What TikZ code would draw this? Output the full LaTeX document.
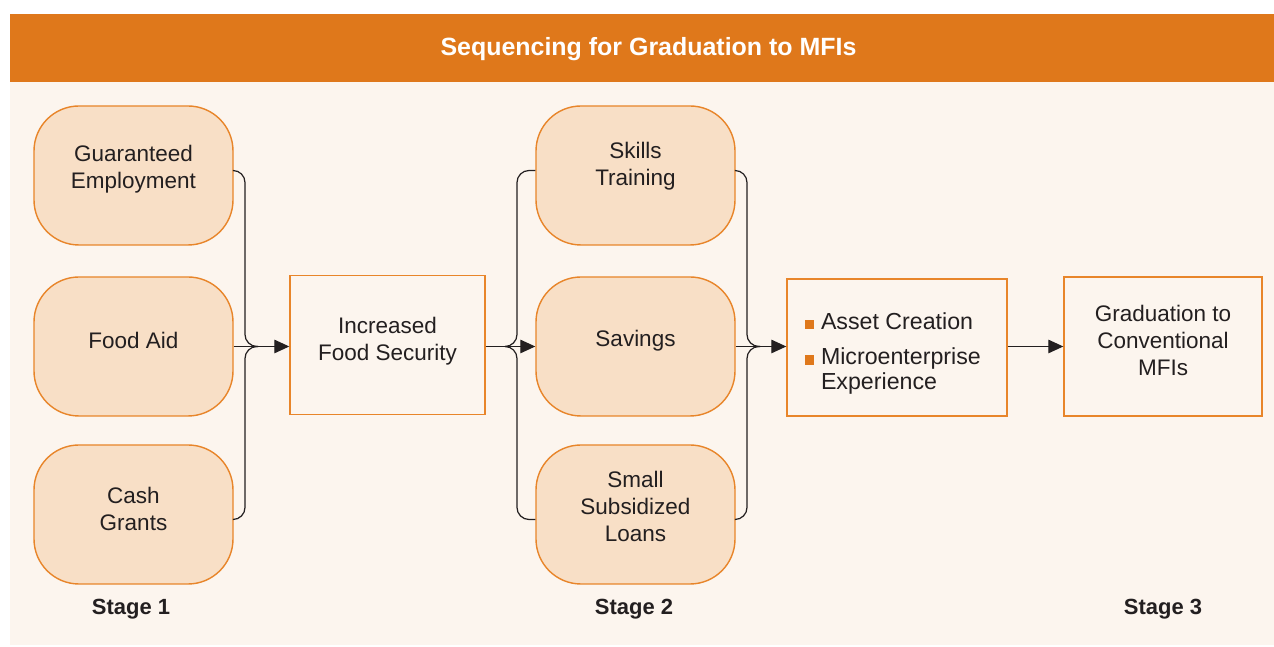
\documentclass[tikz,border=0pt]{standalone}
\usepackage{fontspec}
\setmainfont{Liberation Sans}
\usepackage{xcolor}
\usepackage{tikz}
\usetikzlibrary{arrows.meta}

\definecolor{mfiorange}{HTML}{DF781B}
\definecolor{mficream}{HTML}{FCF5EE}
\definecolor{mfipeach}{HTML}{F8DFC6}
\definecolor{mfiedge}{HTML}{E8852A}
\definecolor{mfitext}{HTML}{231F20}

\newcommand{\sqbullet}{\textcolor{mfiorange}{\rule{0.19cm}{0.19cm}}\hspace{0.14cm}}

\tikzset{
	stagebox/.style={draw=mfiedge, fill=mfipeach, line width=0.8pt, rounded corners=0.9cm, minimum width=3.98cm, minimum height=2.78cm},
	plainbox/.style={draw=mfiedge, line width=0.8pt, minimum height=2.78cm},
	boxtext/.style={align=center, text=mfitext, font=\fontsize{12.8}{15.4}\selectfont, yshift=0.12cm},
	link/.style={draw=mfitext, line width=0.7pt},
	linkarrow/.style={link, -{Triangle[length=0.3cm,width=0.27cm]}},
	stagelabel/.style={text=mfitext, font=\fontsize{12.5}{15}\selectfont\bfseries}
}

\begin{document}
\begin{tikzpicture}

\useasboundingbox (0,0) rectangle (25.48,12.94);
\fill[mficream] (0.2,0.04) rectangle (25.48,11.3);
\fill[mfiorange] (0.2,11.3) rectangle (25.48,12.66);
\node[text=white, font=\fontsize{14.2}{16}\selectfont\bfseries] (title) at (12.97,11.96) {Sequencing for Graduation to MFIs};

% stage 1
\node[stagebox, label={[boxtext]center:{Guaranteed\\Employment}}] (employ) at (2.67,9.43) {};
\node[stagebox, label={[boxtext]center:{Food Aid}}] (aid) at (2.67,6.01) {};
\node[stagebox, label={[boxtext]center:{Cash\\Grants}}] (cash) at (2.67,2.65) {};

\node[plainbox, minimum width=3.9cm, label={[boxtext, yshift=-0.04cm]center:{Increased\\Food Security}}] (foodsec) at (7.75,6.04) {};

% stage 2
\node[stagebox, label={[boxtext, yshift=0.06cm]center:{Skills\\Training}}] (skills) at (12.71,9.43) {};
\node[stagebox, label={[boxtext]center:{Savings}}] (savings) at (12.71,6.01) {};
\node[stagebox, label={[boxtext, yshift=0.04cm]center:{Small\\Subsidized\\Loans}}] (loans) at (12.71,2.65) {};

\node[plainbox, minimum width=4.4cm, minimum height=2.74cm] (asset) at (17.94,5.99) {};
\node[boxtext, align=left, anchor=west, yshift=-0.24cm, font=\fontsize{13.2}{14.2}\selectfont] (assetlist) at ([xshift=0.24cm]asset.west) {\sqbullet Asset Creation\\[0.22cm]\sqbullet Microenterprise\\\phantom{\sqbullet}Experience};

% stage 3
\node[plainbox, minimum width=3.96cm, label={[boxtext]center:{Graduation to\\Conventional\\MFIs}}] (grad) at (23.26,6.01) {};

\foreach \x/\n in {2.62/1,12.68/2,23.26/3}{
	\node[stagelabel] (stage\n) at (\x,0.76) {Stage \n};
}

\coordinate (join1) at (5.16,6.01);
\coordinate (join2) at (10.1,6.01);
\coordinate (join3) at (15.2,6.01);

\foreach \src/\dy in {employ/0.1,cash/-0.1}{
	\draw[link, rounded corners=0.24cm] ([yshift=\dy cm]\src.east) -| ([xshift=-0.26cm]join1) -- (join1);
}
\foreach \src/\dy in {skills/0.1,loans/-0.1}{
	\draw[link, rounded corners=0.24cm] ([yshift=\dy cm]\src.west) -| ([xshift=0.24cm]join2) -- (join2);
	\draw[link, rounded corners=0.24cm] ([yshift=\dy cm]\src.east) -| ([xshift=-0.26cm]join3) -- (join3);
}

\draw[linkarrow] (aid.east) -- (aid.east -| foodsec.west);
\draw[linkarrow] (foodsec.east |- savings.west) -- (savings.west);
\draw[linkarrow] (savings.east) -- (savings.east -| asset.west);
\draw[linkarrow] (asset.east |- grad.west) -- (grad.west);

\end{tikzpicture}
\end{document}
